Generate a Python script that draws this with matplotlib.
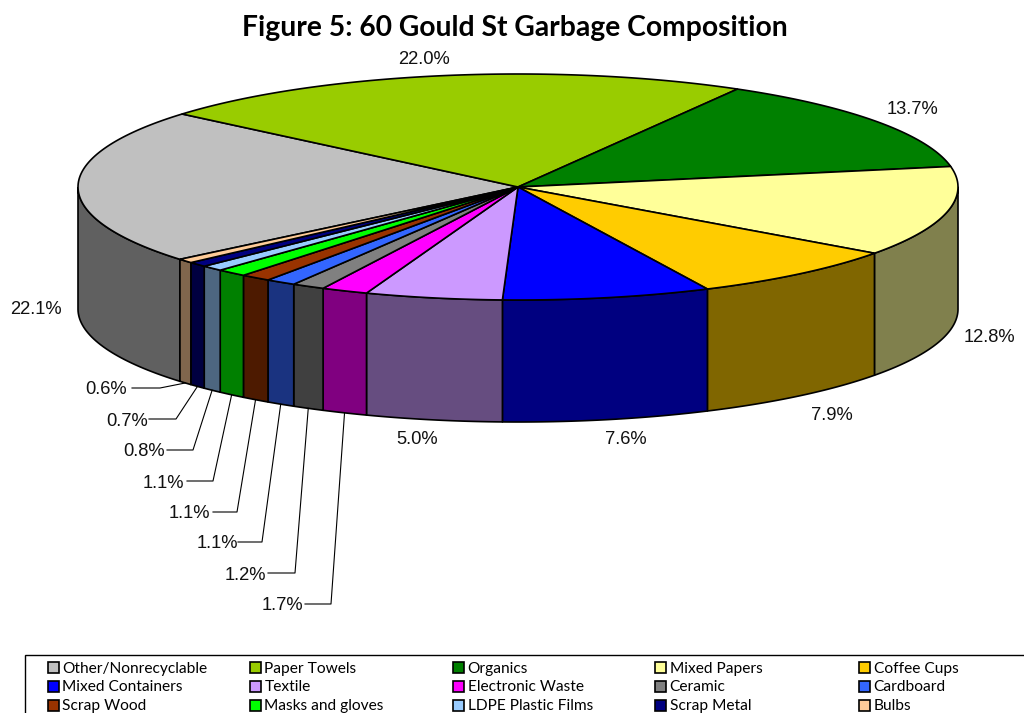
import matplotlib
matplotlib.use('Agg')
import matplotlib.pyplot as plt
from matplotlib.patches import Polygon, Rectangle
import numpy as np

categories = ['Other/Nonrecyclable', 'Paper Towels', 'Organics', 'Mixed Papers', 'Coffee Cups',
              'Mixed Containers', 'Textile', 'Electronic Waste', 'Ceramic', 'Cardboard',
              'Scrap Wood', 'Masks and gloves', 'LDPE Plastic Films', 'Scrap Metal', 'Bulbs']
values = [22.1, 22.0, 13.7, 12.8, 7.9, 7.6, 5.0, 1.7, 1.2, 1.1, 1.1, 1.1, 0.8, 0.7, 0.6]
top_colors = ['#c0c0c0', '#99cc00', '#008000', '#ffff99', '#ffcc00', '#0000ff', '#cc99ff', '#ff00ff',
              '#808080', '#3366ff', '#993300', '#00ff00', '#99ccff', '#000080', '#ffcc99']

# label centre (pixels) for each slice, same order as values
label_xy = [(36, 308), (424, 58), (913, 108), (989, 336), (832, 413), (626, 437), (417, 438),
            (282, 604), (245, 573), (217, 542), (189, 512), (163, 481), (144, 450), (127, 419), (106, 388)]
# leader line: start and elbow x at the label's height, None for no leader
leader_x = [None, None, None, None, None, None, None,
            (305, 331), (268, 295), (238, 262), (213, 237), (187, 213), (167, 193), (149, 176), (132, 160)]

cx, cy, rx, ry, depth = 518, 187, 440, 113, 122
start_angle = 219.8

legend_cols = [48, 250, 453, 655, 859]
legend_rows = [667.5, 686, 705]


def rim(theta, drop=0):
    t = np.radians(theta)
    return np.column_stack([cx + rx * np.cos(t), cy - ry * np.sin(t) + drop])


def darker(col):
    return tuple(c * 0.5 for c in matplotlib.colors.to_rgb(col))


fig = plt.figure(figsize=(10.24, 7.13), dpi=100)
ax = fig.add_axes([0, 0, 1, 1])
ax.set_xlim(0, 1024)
ax.set_ylim(713, 0)
ax.axis('off')

share = np.array(values) / sum(values) * 360
ends = start_angle - np.cumsum(share)
starts = ends + share

for a0, a1, col in zip(starts, ends, top_colors):
    # side wall, only the part on the front half of the ellipse
    wall = np.linspace(a0, a1, 80)
    wall = wall[((wall % 360) >= 180)]
    if len(wall) > 1:
        pts = np.vstack([rim(wall), rim(wall[::-1], depth)])
        ax.add_patch(Polygon(pts, closed=True, fc=darker(col), ec='black', lw=1.2, joinstyle='round'))

for a0, a1, col in zip(starts, ends, top_colors):
    arc = rim(np.linspace(a0, a1, 80))
    pts = np.vstack([[cx, cy], arc])
    ax.add_patch(Polygon(pts, closed=True, fc=col, ec='black', lw=1.2, joinstyle='round'))

for v, (x, y), lead, a0, a1 in zip(values, label_xy, leader_x, starts, ends):
    ax.text(x, y + 2, f'{v:.1f}%', ha='center', va='center', fontsize=13.2,
            family='Liberation Sans', color='#111111')
    if lead is not None:
        end = rim((a0 + a1) / 2, depth)[0]
        ax.plot([lead[0], lead[1], end[0]], [y, y, end[1]], color='black', lw=0.8)

ax.add_patch(Rectangle((25, 655), 1100, 100, fc='white', ec='black', lw=1))
for i, name in enumerate(categories):
    x = legend_cols[i % 5]
    y = legend_rows[i // 5]
    ax.add_patch(Rectangle((x, y - 5.5), 11, 11, fc=top_colors[i], ec='black', lw=1.2))
    ax.text(x + 14.5, y + 5, name, ha='left', va='baseline', fontsize=11.2, family='Lato')

ax.text(515, 28, 'Figure 5: 60 Gould St Garbage Composition', ha='center', va='center',
        fontsize=20.3, fontweight='bold', family='Lato')

fig.savefig('out.png', dpi=100)
